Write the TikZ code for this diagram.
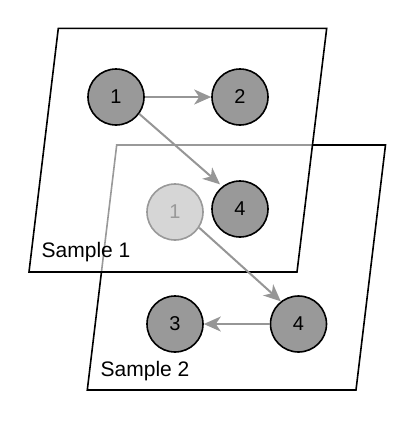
\documentclass[tikz,border=0pt]{standalone}
\usepackage{fontspec}
\setmainfont{Liberation Sans}
\usepackage{xcolor}
\usepackage{tikz}
\usetikzlibrary{positioning,arrows.meta}

\definecolor{nodegray}{RGB}{153,153,153}
\definecolor{linkgray}{RGB}{150,150,150}

\begin{document}
\begin{tikzpicture}[x=1pt,y=1pt,yscale=-1,xscale=1,
  state/.style={circle, draw=black, line width=1.6pt, fill=nodegray, minimum size=56pt, inner sep=0pt, font=\fontsize{20}{20}\selectfont},
  plane/.style={draw=black, line width=1.6pt},
  link/.style={draw=linkgray, line width=2pt, -{Stealth[length=17pt,width=15pt,inset=5pt]}},
  caption/.style={anchor=base west, inner sep=0pt, font=\fontsize{21}{22}\selectfont}]
\useasboundingbox (0,0) rectangle (415,421);

%Sample 2 plane
\draw [plane, fill=white] (116.7,145) -- (385.5,145) -- (356,390) -- (87.3,390) -- cycle ;
\node [state] (s2a) at (175,212) {1};
\node [state] (s2b) at (298.5,324) {4};
\node [state] (s2c) at (175,324) {3};
% Text Node
\node [caption] (cap2) at (100.5,376) {Sample 2};

%Sample 1 plane, half see-through
\draw [plane, fill=white, fill opacity=0.6] (58.3,28.3) -- (326.7,28.3) -- (297,272) -- (29,272) -- cycle ;
\node [state] (s1a) at (116,97) {1};
\node [state] (s1b) at (240,97) {2};
\node [state] (s1c) at (240,209) {4};
% Text Node
\node [caption] (cap1) at (41.5,257.7) {Sample 1};

%Links
\draw [link] (s1a) -- (s1b) ;
\draw [link, shorten >=3pt] (s1a.-36) -- (s1c.128) ;
\draw [link] (s2a.-33) -- (s2b.128) ;
\draw [link] (s2b) -- (s2c) ;
\end{tikzpicture}
\end{document}
